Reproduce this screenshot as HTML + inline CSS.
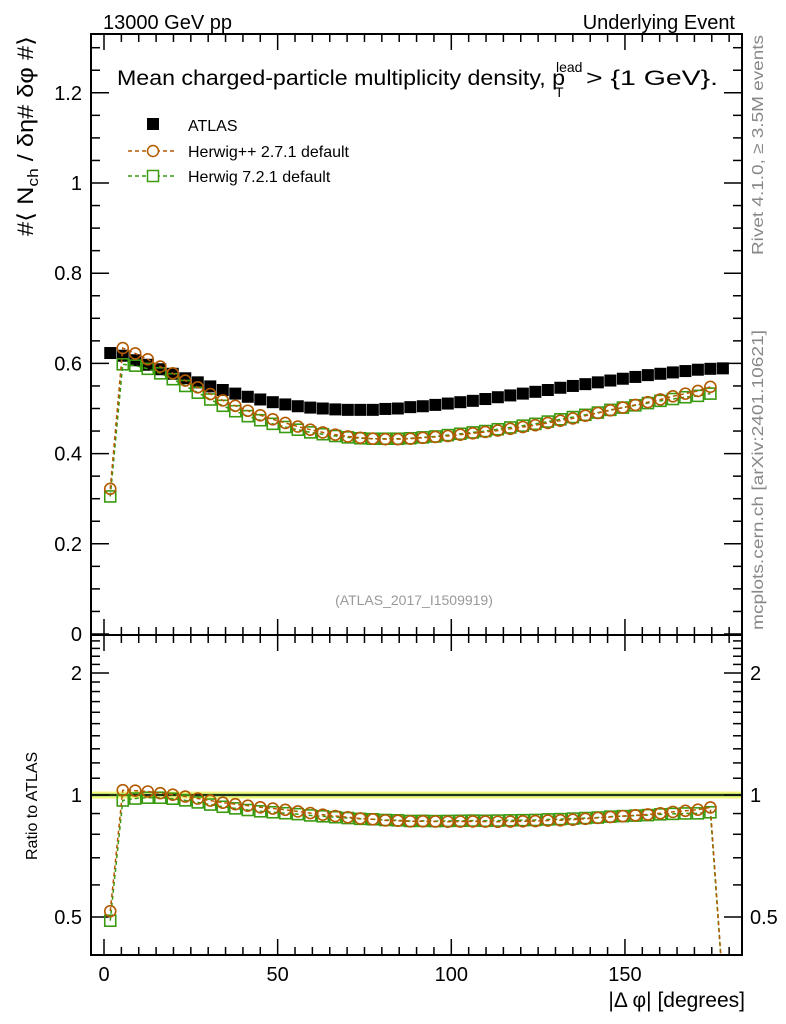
<!DOCTYPE html>
<html><head><meta charset="utf-8"><style>
html,body{margin:0;padding:0;background:#fff;}
svg{display:block;font-family:"Liberation Sans",sans-serif;}
</style></head><body>
<svg id="c" width="786" height="1024" viewBox="0 0 786 1024"></svg>
<script>
const phiCenters=[1.8,5.4,9,12.6,16.2,19.8,23.4,27,30.6,34.2,37.8,41.4,45,48.6,52.2,55.8,59.4,63,66.6,70.2,73.8,77.4,81,84.6,88.2,91.8,95.4,99,102.6,106.2,109.8,113.4,117,120.6,124.2,127.8,131.4,135,138.6,142.2,145.8,149.4,153,156.6,160.2,163.8,167.4,171,174.6,178.2];
const atlasVals=[0.623,0.617,0.607,0.597,0.587,0.577,0.567,0.558,0.549,0.541,0.533,0.526,0.520,0.514,0.509,0.505,0.502,0.500,0.498,0.497,0.497,0.497,0.499,0.500,0.503,0.505,0.508,0.511,0.514,0.517,0.521,0.525,0.529,0.533,0.537,0.541,0.546,0.550,0.554,0.558,0.562,0.566,0.570,0.574,0.577,0.580,0.583,0.586,0.588,0.589];
const herwigPPVals=[0.322,0.634,0.622,0.609,0.593,0.578,0.562,0.547,0.532,0.518,0.506,0.495,0.485,0.476,0.468,0.460,0.453,0.447,0.442,0.438,0.435,0.433,0.432,0.432,0.433,0.435,0.437,0.439,0.442,0.445,0.448,0.451,0.455,0.459,0.463,0.468,0.473,0.478,0.484,0.490,0.496,0.502,0.508,0.514,0.520,0.527,0.533,0.539,0.548];
const herwig7Vals=[0.305,0.598,0.595,0.588,0.578,0.565,0.550,0.535,0.520,0.506,0.494,0.483,0.474,0.466,0.459,0.453,0.447,0.443,0.439,0.436,0.434,0.433,0.433,0.433,0.434,0.436,0.438,0.441,0.444,0.447,0.450,0.454,0.458,0.462,0.466,0.471,0.476,0.481,0.486,0.491,0.497,0.502,0.507,0.512,0.517,0.521,0.525,0.528,0.533];
const xTickLabels=[0,50,100,150];
const yTickLabels=[0,0.2,0.4,0.6,0.8,1,1.2];
const ratioTickLabels=[0.5,1,2];

const NS="http://www.w3.org/2000/svg";
const svg=document.getElementById('c');
const L=91,R=742,T=34,M=635,B=955;
const X=v=>104+(v)*3.473;
const Y=v=>634-v*451;
const RY=v=>795-122*Math.log2(v);
function el(tag,attrs,parent){const e=document.createElementNS(NS,tag);for(const k in attrs)e.setAttribute(k,attrs[k]);(parent||svg).appendChild(e);return e;}
function txt(s,x,y,attrs){const t=el('text',Object.assign({x:x,y:y},attrs||{}));t.textContent=s;return t;}

const defs=el('defs',{});
const cp1=el('clipPath',{id:'cm'},defs);el('rect',{x:L,y:T,width:R-L,height:M-T},cp1);
const cp2=el('clipPath',{id:'cr'},defs);el('rect',{x:L,y:M,width:R-L,height:B-M},cp2);

let t;
t=txt('13000 GeV pp',103,29,{'font-size':20});

t=txt('Underlying Event',735,29,{'font-size':20,'text-anchor':'end'});


const band=el('rect',{x:L,y:RY(1.02),width:R-L,height:RY(0.98)-RY(1.02),fill:'#f5f57a'});

el('line',{x1:L,x2:R,y1:RY(1),y2:RY(1),stroke:'#8fd16a','stroke-width':3});
el('line',{x1:L,x2:R,y1:RY(1),y2:RY(1),stroke:'#000','stroke-width':1.5});

let f=el('rect',{x:L,y:T,width:R-L,height:M-T,fill:'none',stroke:'#000','stroke-width':2});

f=el('rect',{x:L,y:M,width:R-L,height:B-M,fill:'none',stroke:'#000','stroke-width':2});


for(let v=0;v<=180;v+=5){
  const maj=v%50===0, len=maj?16:8, x=X(v);
  [[T,1],[M,-1],[M,1],[B,-1]].forEach(([y0,d])=>el('line',{x1:x,x2:x,y1:y0,y2:y0+d*len,stroke:'#000','stroke-width':1.5}));
}
xTickLabels.forEach(v=>{const t=txt(String(v),X(v),981,{'font-size':20,'text-anchor':'middle'});
});
t=txt('|\u0394 \u03c6| [degrees]',745,1007,{'font-size':21,'text-anchor':'end'});


for(let i=0;i<=26;i++){const v=i*0.05,y=Y(v);if(y<T)continue;const maj=i%4===0,len=maj?18:9;
 el('line',{x1:L,x2:L+len,y1:y,y2:y,stroke:'#000','stroke-width':1.5});
 el('line',{x1:R,x2:R-len,y1:y,y2:y,stroke:'#000','stroke-width':1.5});}
yTickLabels.forEach(v=>{const t=txt(String(v),82,Y(v)+7,{'font-size':20,'text-anchor':'end'});
});
const rt=[0.4,0.5,0.6,0.7,0.8,0.9,1,1.1,1.2,1.3,1.4,1.5,1.6,1.7,1.8,1.9,2,2.1,2.2,2.3,2.4];
rt.forEach(v=>{const y=RY(v);if(y<M||y>B)return;const maj=(v===0.5||v===1||v===2),len=maj?18:9;
 el('line',{x1:L,x2:L+len,y1:y,y2:y,stroke:'#000','stroke-width':1.5});
 el('line',{x1:R,x2:R-len,y1:y,y2:y,stroke:'#000','stroke-width':1.5});});
ratioTickLabels.forEach(v=>{
 let t=txt(String(v),82,RY(v)+7,{'font-size':20,'text-anchor':'end'});
 
 t=txt(String(v),750,RY(v)+7,{'font-size':20});
 });

t=txt('#\u27e8 N',0,0,{'font-size':22,transform:'translate(33,236) rotate(-90)'});

const ts=el('tspan',{'font-size':15,dy:5},t);ts.textContent='ch';
const ts2=el('tspan',{dy:-5},t);ts2.textContent=' / \u03b4\u03b7# \u03b4\u03c6 #\u27e9';
t.setAttribute('textLength','200');t.setAttribute('lengthAdjust','spacingAndGlyphs');
t=txt('Ratio to ATLAS',0,0,{'font-size':16,transform:'translate(37,860) rotate(-90)'});

t=txt('Rivet 4.1.0, \u2265 3.5M events',0,0,{'font-size':16,fill:'#888',transform:'translate(763,255) rotate(-90)',textLength:220,lengthAdjust:'spacingAndGlyphs'});

t=txt('mcplots.cern.ch [arXiv:2401.10621]',0,0,{'font-size':16,fill:'#888',transform:'translate(763,630) rotate(-90)',textLength:300,lengthAdjust:'spacingAndGlyphs'});

t=txt('(ATLAS_2017_I1509919)',414,605,{'font-size':14,fill:'#999','text-anchor':'middle'});


t=txt('Mean charged-particle multiplicity density, p',117,85,{'font-size':21,textLength:448,lengthAdjust:'spacingAndGlyphs'});

t=txt('lead',556,72,{'font-size':14});

t=txt('T',555,97,{'font-size':14});

t=txt('> {1 GeV}.',586,85,{'font-size':21,textLength:132,lengthAdjust:'spacingAndGlyphs'});


const colPP='#b35a00',col7='#3a9a10';
function series(vals,col,shape,name,ratio){
 const g=el('g',{'clip-path':ratio?'url(#cr)':'url(#cm)'});
 
 const pts=vals.map((v,i)=>[X(phiCenters[i]),ratio?RY(v/atlasVals[i]):Y(v)]);
 if(ratio){pts.push([X(phiCenters[vals.length]),B+30]);}
 el('polyline',{points:pts.map(p=>p.join(',')).join(' '),fill:'none',stroke:col,'stroke-width':1.5,'stroke-dasharray':'4,3'},g);
 vals.forEach((v,i)=>{const [x,y]=pts[i];let m;
  if(shape==='c')m=el('circle',{cx:x,cy:y,r:5.5,fill:'none',stroke:col,'stroke-width':1.6},g);
  else m=el('rect',{x:x-5.5,y:y-5.5,width:11,height:11,fill:'none',stroke:col,'stroke-width':1.6},g);
  });
}
const ga=el('g',{'clip-path':'url(#cm)'});

atlasVals.forEach((v,i)=>{const m=el('rect',{x:X(phiCenters[i])-6,y:Y(v)-6,width:12,height:12,fill:'#000'},ga);
 });
series(herwig7Vals,col7,'s','herwig7-series',false);
series(herwigPPVals,colPP,'c','herwigpp-series',false);
series(herwig7Vals,col7,'s','herwig7-ratio-series',true);
series(herwigPPVals,colPP,'c','herwigpp-ratio-series',true);

const lg=el('g',{});
el('rect',{x:147,y:118,width:12,height:12,fill:'#000'},lg);
let lt=txt('ATLAS',188,131,{'font-size':16});lg.appendChild(lt);
el('line',{x1:128,x2:176,y1:151,y2:151,stroke:colPP,'stroke-width':1.5,'stroke-dasharray':'4,3'},lg);
el('circle',{cx:153,cy:151,r:5.5,fill:'#fff',stroke:colPP,'stroke-width':1.5},lg);
lt=txt('Herwig++ 2.7.1 default',188,157,{'font-size':16});lg.appendChild(lt);
el('line',{x1:128,x2:176,y1:176,y2:176,stroke:col7,'stroke-width':1.5,'stroke-dasharray':'4,3'},lg);
el('rect',{x:147.5,y:170.5,width:11,height:11,fill:'#fff',stroke:col7,'stroke-width':1.5},lg);
lt=txt('Herwig 7.2.1 default',188,182,{'font-size':16});lg.appendChild(lt);
</script>
</body></html>
